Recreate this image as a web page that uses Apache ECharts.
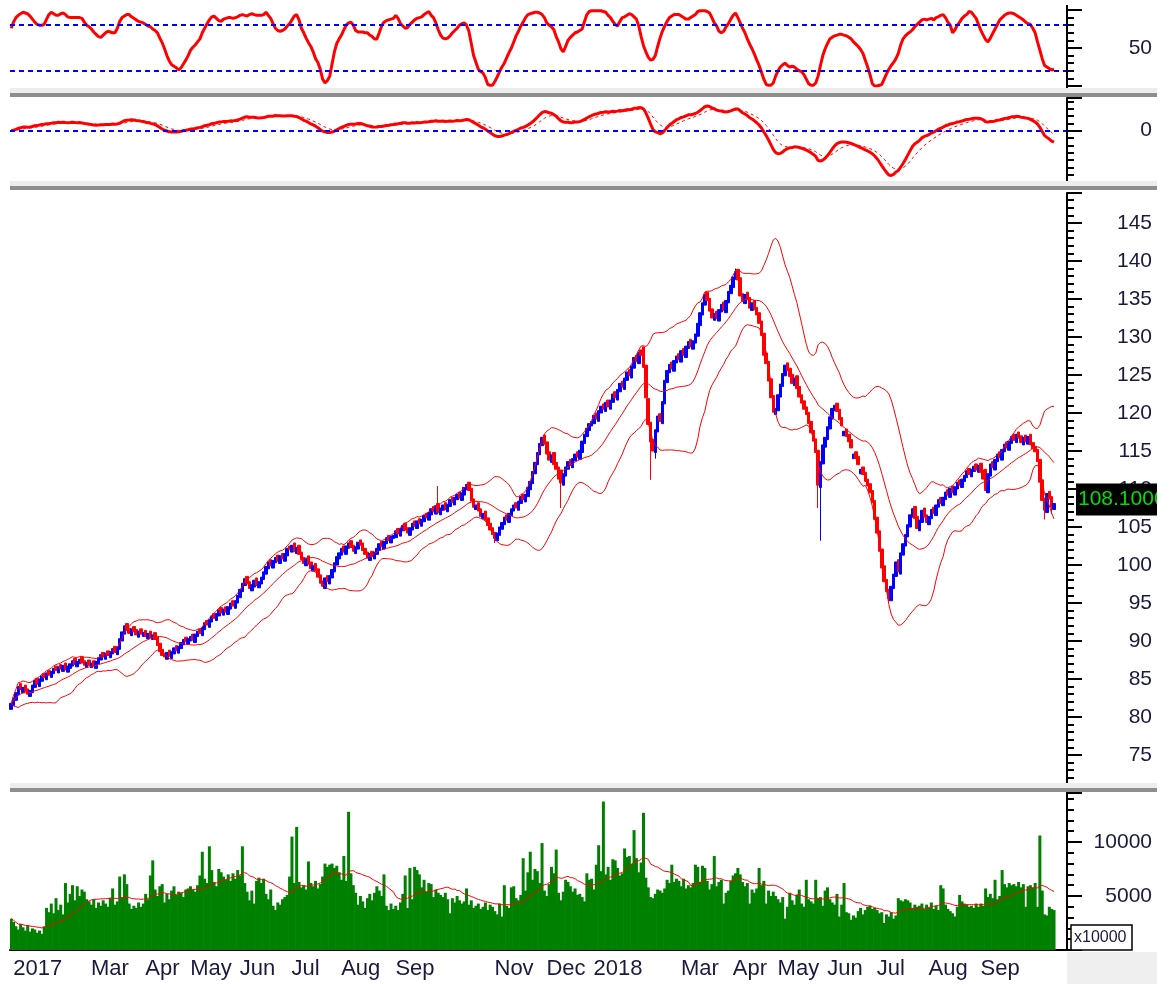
<!DOCTYPE html>
<html>
<head>
<meta charset="utf-8">
<title>Price chart</title>
<script src="https://cdn.jsdelivr.net/npm/echarts/dist/echarts.min.js"></script>
<style>
    html, body { margin: 0; padding: 0; background: #fff; }
    #main { width: 1169px; height: 984px; }
</style>
</head>
<body>
<div id="main"></div>
<script type="text/javascript">
// month labels on the time axis ('' = no label) and trading days in each month
var monthLabels = ['2017', '', 'Mar', 'Apr', 'May', 'Jun', 'Jul', 'Aug', 'Sep', '', 'Nov', 'Dec',
    '2018', '', 'Mar', 'Apr', 'May', 'Jun', 'Jul', 'Aug', 'Sep', ''];
var monthDays = [14, 19, 23, 19, 21, 22, 21, 23, 20, 22, 22, 20,
    22, 15, 22, 19, 21, 21, 22, 22, 19, 14];

// daily open / close
var opens17 = [
    81.0, 81.5, 82.2, 82.9, 84.4, 83.2, 84.2, 83.7, 82.7, 83.2, 83.9, 85.1, 84.0, 84.7,
    85.7, 84.9, 86.1, 85.2, 85.7, 86.7, 85.8, 86.9, 86.0, 87.1, 85.9, 86.4, 86.7, 87.7, 86.6, 87.0, 87.9, 87.4, 86.5,
    87.5, 86.5, 87.4, 86.4, 87.0, 87.5, 88.5, 87.6, 88.7, 87.8, 88.3, 89.3, 88.2, 88.9, 90.0, 90.9, 92.3, 91.7, 90.7, 91.9, 91.5, 90.5, 91.6,
    90.6, 91.4, 90.3, 91.3, 90.2, 91.1, 90.5, 89.7, 88.9, 88.4, 87.6, 88.8, 87.7, 88.3, 89.4, 88.4, 89.0, 89.5, 90.5,
    89.6, 90.0, 90.9, 89.8, 90.6, 91.6, 90.7, 91.5, 92.7, 91.8, 92.5, 93.6, 92.7, 93.3, 94.4, 93.4, 94.5, 93.5, 94.2, 95.3, 94.3,
    95.0, 95.7, 96.5, 97.3, 98.5, 97.8, 96.6, 97.1, 98.3, 97.0, 97.5, 98.1, 98.8, 99.5, 100.7, 99.6, 100.3, 101.3, 100.2, 101.5, 100.5, 101.2,
    102.5, 101.7, 102.9, 101.5, 102.6, 101.7, 101.0, 99.9, 101.2, 100.4, 99.2, 100.2, 99.5, 98.7, 97.9, 96.9, 98.6, 97.5, 98.3, 99.1, 100.0,
    100.8, 101.3, 102.5, 101.4, 102.2, 103.2, 102.6, 101.5, 102.1, 103.3, 102.9, 102.2, 101.7, 100.6, 101.8, 100.8, 101.4, 101.9, 103.1, 102.1, 102.8, 103.9, 102.9,
    103.5, 103.6, 104.8, 103.8, 104.5, 105.5, 104.9, 103.9, 104.6, 105.8, 104.8, 106.1, 105.1, 105.7, 106.8, 105.9, 106.6, 107.7, 106.7, 108.1,
    106.6, 107.2, 108.2, 107.0, 107.7, 108.9, 107.9, 108.6, 109.6, 108.5, 109.2, 109.9, 110.9, 110.1, 108.7, 107.3, 108.2, 107.4, 106.1, 107.1, 106.2, 105.5,
    104.9, 104.3, 103.2, 103.9, 104.7, 105.3, 106.6, 105.6, 106.5, 107.1, 108.2, 107.2, 108.1, 109.3, 108.3, 109.0, 109.9, 110.7, 112.0, 113.2, 114.5, 115.7,
    117.1, 116.2, 114.9, 113.5, 114.8, 113.5, 112.9, 112.5, 110.5, 111.7, 112.6, 113.9, 112.8, 113.7, 114.9, 113.9, 114.8, 116.0, 116.9, 117.7
];
var closes17 = [
    81.8, 82.5, 83.2, 84.0, 83.6, 83.9, 83.4, 83.0, 83.5, 84.2, 84.8, 84.3, 85.0, 85.4,
    85.2, 85.8, 85.5, 86.0, 86.4, 86.1, 86.6, 86.3, 86.8, 86.2, 86.7, 87.0, 87.4, 86.9, 87.3, 87.6, 87.1, 86.8, 87.2,
    86.8, 87.1, 86.7, 87.3, 87.8, 88.2, 87.9, 88.4, 88.1, 88.6, 89.0, 88.5, 89.2, 90.3, 91.2, 92.0, 91.4, 91.0, 91.6, 91.2, 90.8, 91.3, 90.9,
    91.1, 90.6, 91.0, 90.5, 90.8, 90.2, 89.4, 88.6, 88.1, 87.9, 88.5, 88.0, 88.6, 89.1, 88.7, 89.3, 89.8, 90.2, 89.9,
    90.3, 90.6, 90.1, 90.9, 91.3, 91.0, 91.8, 92.4, 92.1, 92.8, 93.3, 93.0, 93.6, 94.1, 93.7, 94.2, 93.8, 94.5, 95.0, 94.6, 95.3,
    96.0, 96.8, 97.6, 98.2, 97.5, 96.9, 97.4, 98.0, 97.3, 97.8, 98.4, 99.1, 99.8, 100.4, 99.9, 100.6, 101.0, 100.5, 101.2, 100.8, 101.5, 102.2,
    102.0, 102.6, 101.8, 102.3, 101.4, 100.7, 100.2, 100.9, 100.1, 99.5, 99.9, 99.2, 98.4, 97.6, 97.2, 98.3, 97.8, 98.6, 99.4, 100.3, 101.1,
    101.6, 102.2, 101.7, 102.5, 102.9, 102.3, 101.8, 102.4, 103.0, 102.6, 101.9, 101.4, 100.9, 101.5, 101.1, 101.7, 102.2, 102.8, 102.4, 103.1, 103.6, 103.2, 103.8,
    103.9, 104.5, 104.1, 104.8, 105.2, 104.6, 104.2, 104.9, 105.5, 105.1, 105.8, 105.4, 106.0, 106.5, 106.2, 106.9, 107.4, 107.0, 107.8, 106.9,
    107.5, 107.9, 107.3, 108.0, 108.6, 108.2, 108.9, 109.3, 108.8, 109.5, 110.2, 110.6, 109.8, 108.4, 107.6, 107.9, 107.1, 106.4, 106.8, 105.9, 105.2, 104.6,
    104.0, 103.5, 104.2, 105.0, 105.6, 106.3, 105.9, 106.8, 107.4, 107.9, 107.5, 108.4, 109.0, 108.6, 109.3, 110.2, 111.0, 112.3, 113.5, 114.8, 116.0, 116.8,
    115.9, 114.6, 113.8, 114.5, 113.2, 112.6, 111.3, 110.8, 112.0, 112.9, 113.6, 113.1, 114.0, 114.6, 114.2, 115.1, 116.3, 117.2, 118.0, 118.6
];
var opens18 = [
    118.3, 118.6, 120.0, 118.9, 120.0, 121.2, 120.2, 121.7, 120.5, 121.4, 122.8, 121.7, 122.8, 124.2, 123.1, 124.3, 125.7, 124.6, 125.9, 127.6, 126.5, 128.3,
    128.7, 126.3, 121.9, 118.8, 116.5, 114.8, 117.5, 119.9, 118.6, 121.2, 124.0, 125.3, 126.7, 125.5, 126.6,
    127.8, 126.7, 128.5, 127.3, 128.5, 129.7, 128.4, 129.2, 130.1, 131.5, 132.9, 134.2, 135.9, 135.1, 133.7, 132.2, 133.4, 132.1, 133.3, 134.6, 133.2, 134.5,
    135.7, 136.5, 137.6, 138.9, 137.8, 135.7, 134.4, 135.9, 135.2, 133.5, 134.8, 133.9, 133.2, 132.1, 130.5, 127.9, 126.8, 124.5, 122.3,
    119.8, 120.3, 122.1, 123.5, 124.9, 126.6, 125.9, 125.1, 123.6, 124.9, 123.5, 122.4, 121.6, 120.8, 120.1, 118.9, 117.7, 116.6, 115.1, 110.2, 113.3,
    115.5, 116.5, 117.9, 119.2, 120.3, 121.3, 120.5, 119.4, 117.0, 117.9, 117.2, 116.5, 114.0, 114.9, 114.3, 112.0, 112.9, 112.2, 111.3, 110.7, 109.8,
    108.5, 106.3, 104.5, 102.1, 99.9, 98.1, 96.8, 95.3, 96.9, 98.5, 100.7, 98.8, 101.3, 102.5, 103.7, 105.0, 106.3, 107.7, 106.4, 104.5, 105.6, 107.5,
    106.6, 105.3, 106.1, 107.6, 106.5, 107.6, 108.9, 107.8, 108.6, 109.9, 108.9, 110.4, 109.2, 110.0, 111.2, 110.2, 111.0, 111.5, 112.7, 111.6, 112.3, 113.3,
    112.2, 113.4, 112.5, 112.6, 109.5, 111.7, 113.6, 112.5, 113.6, 114.9, 113.8, 114.9, 116.2, 115.1, 116.0, 117.2, 116.1, 117.5, 117.0,
    115.8, 117.1, 115.9, 117.2, 116.1, 115.6, 115.2, 113.9, 111.2, 108.8, 106.9, 109.7, 109.0, 107.3
];
var closes18 = [
    118.9, 119.7, 119.2, 120.3, 120.9, 120.5, 121.4, 120.8, 121.7, 122.5, 122.0, 123.1, 123.9, 123.4, 124.6, 125.4, 124.9, 126.2, 127.3, 126.8, 128.0, 127.6,
    126.0, 122.0, 118.5, 116.2, 115.0, 117.8, 119.6, 118.9, 121.5, 124.3, 125.6, 126.4, 125.8, 126.9, 127.5,
    127.0, 128.2, 127.6, 128.8, 129.4, 128.7, 129.5, 130.4, 131.8, 133.2, 134.5, 135.6, 134.8, 133.4, 132.5, 133.1, 132.4, 133.6, 134.3, 133.5, 134.8, 136.0,
    136.8, 137.9, 138.6, 137.5, 135.4, 134.7, 135.6, 134.9, 133.8, 134.5, 133.6, 132.9, 131.8, 130.2, 127.6, 126.5, 124.2, 122.0, 120.1,
    120.6, 122.4, 123.8, 125.2, 126.3, 125.6, 124.8, 123.9, 124.6, 123.2, 122.1, 121.3, 120.5, 119.8, 118.6, 117.4, 116.3, 114.8, 110.5, 113.6, 115.8,
    116.8, 118.2, 119.5, 120.6, 121.0, 120.2, 119.1, 118.3, 117.6, 116.9, 116.2, 115.4, 114.6, 114.0, 113.2, 112.6, 111.9, 111.0, 110.4, 109.5, 108.2,
    106.0, 104.2, 101.8, 99.6, 97.8, 96.5, 95.6, 97.2, 98.8, 100.4, 99.1, 101.6, 102.8, 104.0, 105.3, 106.6, 107.4, 106.1, 104.8, 105.9, 107.2, 106.3,
    105.6, 106.4, 107.3, 106.8, 107.9, 108.6, 108.1, 108.9, 109.6, 109.2, 110.1, 109.5, 110.3, 110.9, 110.5, 111.3, 111.8, 112.4, 111.9, 112.6, 113.0, 112.5,
    113.1, 112.2, 111.3, 109.8, 112.0, 113.3, 112.8, 113.9, 114.6, 114.1, 115.2, 115.9, 115.4, 116.3, 116.9, 116.4, 117.2, 116.7, 116.1,
    116.8, 116.2, 116.9, 115.8, 115.3, 114.9, 113.6, 110.9, 108.5, 107.2, 109.4, 108.7, 107.6, 108.1
];
// long shadows that stand out: [day index, low, high]
var wicks = [[181, null, 110.4], [205, 102.9, null], [233, 107.5, null], [271, 111.2, null],
    [273, 114.0, null], [307, null, 139.0], [342, 107.5, null], [343, 103.2, null],
    [372, 95.0, null], [438, 106.0, null], [441, 106.7, null]];

// top oscillator (0-100)
var osc = [
    76, 84, 90, 93, 95, 97, 96, 95, 92, 88, 84, 81, 80, 80, 81, 88, 94, 97, 95, 93,
    93, 95, 96, 94, 91, 90, 90, 90, 90, 90, 89, 84, 80, 78, 75, 71, 68, 65, 64, 67,
    70, 72, 71, 70, 70, 76, 85, 90, 92, 94, 94, 91, 89, 87, 85, 84, 83, 81, 79, 78,
    75, 73, 70, 63, 57, 49, 40, 33, 28, 26, 24, 21, 24, 29, 34, 40, 47, 51, 54, 58,
    62, 70, 76, 82, 87, 91, 92, 89, 86, 85, 88, 89, 90, 90, 89, 90, 91, 93, 94, 93,
    92, 94, 95, 94, 93, 93, 93, 94, 97, 93, 89, 82, 76, 73, 72, 73, 75, 79, 82, 87,
    92, 94, 87, 76, 70, 63, 57, 52, 45, 36, 31, 22, 9, 4, 7, 13, 29, 45, 56, 62,
    67, 74, 80, 83, 84, 80, 73, 71, 71, 71, 70, 70, 67, 65, 62, 62, 70, 79, 84, 86,
    87, 88, 89, 93, 89, 82, 79, 76, 77, 81, 84, 87, 89, 90, 91, 94, 96, 98, 93, 90,
    83, 74, 67, 63, 62, 63, 66, 70, 73, 76, 80, 82, 83, 80, 72, 56, 40, 31, 22, 19,
    17, 11, 2, 1, 1, 6, 12, 19, 25, 30, 37, 44, 50, 58, 66, 72, 79, 84, 90, 94,
    95, 96, 97, 97, 96, 94, 90, 83, 80, 78, 74, 65, 58, 49, 45, 52, 60, 64, 67, 70,
    71, 73, 75, 85, 94, 98, 99, 99, 99, 99, 99, 98, 97, 93, 90, 85, 81, 79, 85, 90,
    91, 93, 95, 94, 91, 88, 79, 65, 53, 45, 38, 34, 35, 40, 52, 63, 72, 79, 85, 90,
    92, 94, 94, 94, 92, 90, 88, 88, 90, 92, 94, 98, 99, 99, 99, 98, 96, 90, 83, 79,
    72, 70, 72, 78, 82, 88, 93, 96, 90, 83, 76, 70, 62, 55, 49, 42, 34, 27, 18, 9,
    2, 1, 1, 4, 13, 20, 25, 28, 30, 27, 25, 26, 25, 22, 20, 19, 15, 9, 3, 1,
    1, 4, 13, 27, 40, 49, 56, 62, 64, 66, 67, 68, 68, 67, 66, 64, 62, 58, 55, 52,
    48, 43, 34, 25, 15, 3, 0, 0, 1, 2, 9, 16, 22, 27, 31, 36, 43, 54, 62, 66,
    69, 71, 74, 78, 81, 84, 87, 88, 87, 88, 89, 87, 90, 91, 93, 94, 90, 84, 80, 70,
    74, 80, 84, 89, 92, 94, 98, 97, 93, 89, 81, 73, 67, 61, 58, 63, 69, 75, 81, 87,
    90, 93, 95, 96, 96, 95, 93, 91, 89, 87, 84, 82, 81, 76, 70, 58, 47, 36, 27, 25,
    23, 21, 22
];

// daily volume (x10000)
var vol17 = [
    2900, 2600, 2200, 1900, 2400, 2100, 1800, 2300, 1700, 2000, 1900, 1600, 1800, 1500,
    2200, 3900, 3500, 4300, 3400, 4800, 3700, 4200, 3300, 6200, 4400, 5200, 6000, 4600, 5900, 5000, 5600, 5400, 4700,
    4500, 4200, 4700, 3900, 4400, 4100, 4600, 4300, 4000, 4800, 5700, 4200, 4500, 6800, 4900, 7000, 6100, 4300, 3800, 4100, 3900, 4400, 4000,
    4300, 5200, 4700, 6900, 8300, 5600, 5000, 5900, 6100, 4400, 5200, 4700, 5500, 5900, 5100, 5400, 5300, 4900, 5600,
    5700, 5900, 5600, 5400, 6000, 6900, 9100, 6600, 6200, 9600, 7400, 6300, 5900, 7500, 7200, 6800, 6500, 7000, 6400, 7100, 6600,
    7400, 6900, 9600, 6200, 5400, 4600, 5500, 4300, 6400, 6700, 6200, 6600, 5200, 4700, 5600, 4100, 3700, 4400, 4200, 4700, 4900, 5100,
    6800, 10500, 6200, 11400, 6300, 5800, 6000, 5600, 8200, 6200, 5900, 6400, 5700, 6100, 6800, 8000, 7700, 7900, 8000, 7600, 7800,
    7200, 6500, 8700, 6400, 12800, 7100, 6000, 5300, 4200, 5000, 4500, 3900, 4800, 5200, 4600, 5300, 5900, 5500, 5000, 7000, 4100, 3700, 4300,
    3800, 4100, 3700, 4400, 5200, 6900, 3900, 7600, 4700, 7700, 7400, 7000, 5800, 6500, 5400, 6200, 6100, 4900, 5600, 5300,
    5100, 4900, 5300, 4700, 3400, 4800, 4400, 5000, 4600, 4300, 4500, 5700, 4200, 4600, 3900, 4100, 4300, 3800, 4000, 4400, 3700, 4200,
    4000, 3600, 3300, 4300, 3100, 6000, 4100, 3900, 5800, 5900, 4800, 4600, 5100, 8500, 5500, 7200, 9100, 6500, 7500, 7300, 6200, 9900,
    5500, 5000, 6100, 7700, 7100, 9300, 5300, 4600, 5400, 6500, 6300, 5900, 5400, 5700, 5100, 5200, 4900, 4500, 7100, 6500
];
var vol18 = [
    6600, 5600, 7900, 9700, 7300, 13750, 7000, 7700, 6500, 8400, 8300, 7600, 6900, 7100, 9400, 8600, 8700, 8000, 11100, 8500, 7200, 8100,
    12700, 6700, 5800, 4900, 4800, 5200, 5600, 5500, 5300, 5700, 6500, 6200, 7900, 6300, 6600,
    6400, 5900, 6600, 5700, 6000, 5800, 6200, 7900, 7700, 6300, 7800, 7600, 6400, 5600, 6100, 8700, 5900, 6300, 6500, 4300, 5300, 5500,
    6400, 6900, 7100, 7600, 7000, 6300, 5900, 6200, 4300, 5600, 5300, 5700, 7600, 6000, 6400, 4300, 5500, 5000, 5400,
    5000, 4700, 4400, 4900, 2900, 4000, 5300, 4600, 4200, 5100, 5600, 4300, 4000, 6500, 4700, 4500, 4300, 6500, 4800, 4900, 4100,
    5500, 5800, 4700, 4400, 4200, 5200, 3100, 4200, 6200, 3500, 3400, 2800, 3200, 3000, 3600, 3900, 3300, 3700, 4000, 4100, 3800,
    3900, 3700, 3400, 3500, 2500, 3300, 3100, 3500, 2900, 3200, 4800, 4600, 4500, 4700, 4600, 4400, 3900, 4200, 4000, 4100, 4300, 3800,
    4200, 3900, 4400, 3800, 4100, 3700, 6000, 5700, 4200, 3800, 3600, 3400, 3100, 4000, 5100, 4500, 4300, 4200, 4000, 4100, 3900, 4300,
    4000, 4300, 4100, 5700, 4900, 5200, 4800, 6500, 4700, 5000, 7400, 6100, 5800, 6200, 6000, 6100, 5900, 6300, 5800,
    6100, 4000, 5900, 6000, 5800, 6200, 4000, 10600, 5500, 3300, 3200, 4000, 3800, 3700
];

var opens = opens17.concat(opens18);
var closes = closes17.concat(closes18);
var vols = vol17.concat(vol18);
var n = closes.length;

var lows = [], highs = [];
for (var i = 0; i < n; i++) {
    lows.push(Math.min(opens[i], closes[i]));
    highs.push(Math.max(opens[i], closes[i]));
}
wicks.forEach(function (w) {
    if (w[1] != null) lows[w[0]] = w[1];
    if (w[2] != null) highs[w[0]] = w[2];
});

// category axis: one slot per trading day, a few empty slots on the right
var cats = [], monthStart = {}, k = 0;
monthDays.forEach(function (d, mi) {
    monthStart[k] = mi;
    for (var j = 0; j < d; j++) cats.push(mi + '|' + j);
    k += d;
});
for (var p = 0; p < 5; p++) cats.push('pad|' + p);
var shortTickMonths = [1, 13, 21];

// indicators
function sma(src, per) {
    var out = [];
    for (var i = 0; i < src.length; i++) {
        var s = Math.max(0, i - per + 1), sum = 0;
        for (var j = s; j <= i; j++) sum += src[j];
        out.push(sum / (i - s + 1));
    }
    return out;
}
function ema(src, per) {
    var a = 2 / (per + 1), out = [src[0]];
    for (var i = 1; i < src.length; i++) out.push(out[i - 1] + a * (src[i] - out[i - 1]));
    return out;
}
var bbUp = [], bbMid = [], bbLo = [];
for (var i = 0; i < n; i++) {
    var s = Math.max(0, i - 19), w = closes.slice(s, i + 1);
    var m = w.reduce(function (a, b) { return a + b; }, 0) / w.length;
    var v = w.reduce(function (a, b) { return a + (b - m) * (b - m); }, 0) / w.length;
    var sd = Math.sqrt(v);
    bbUp.push(+(m + 2 * sd).toFixed(2));
    bbMid.push(+m.toFixed(2));
    bbLo.push(+(m - 2 * sd).toFixed(2));
}
var e12 = ema(closes, 12), e26 = ema(closes, 26);
var macd = e12.map(function (x, i) { return x - e26[i]; });
var signal = ema(macd, 9);
var volMa = sma(vols, 20).map(function (x) { return Math.round(x); });

var macdMin = Math.min.apply(null, macd.concat(signal));
var sc = 44 / Math.abs(macdMin);
var mu = 7.2 / sc;

var candleData = [];
for (var i = 0; i < n; i++) candleData.push([opens[i], closes[i], lows[i], highs[i]]);

var labelColor = '#1a1a3c';
function yAxis(g, min, max, interval, fmt, minorSplit) {
    return {
        type: 'value', gridIndex: g, position: 'right', min: min, max: max, interval: interval,
        splitLine: { show: false },
        axisLine: { show: true, lineStyle: { color: '#000', width: 2 } },
        axisTick: { show: true, length: 15, lineStyle: { color: '#000', width: 2 } },
        minorTick: { show: true, splitNumber: minorSplit, length: 7, lineStyle: { color: '#000', width: 2 } },
        axisLabel: { align: 'right', margin: 85, fontSize: 21, color: labelColor, formatter: fmt }
    };
}

var myChart = echarts.init(document.getElementById('main'));
var option = {
    animation: false,
    backgroundColor: '#fff',
    textStyle: { fontFamily: 'Liberation Sans, Arial, sans-serif' },
    grid: [
        { left: 10, right: 102, top: 10, height: 76, outerBoundsMode: 'none' },
        { left: 10, right: 102, top: 98, height: 84, outerBoundsMode: 'none' },
        { left: 10, right: 102, top: 193, height: 600, outerBoundsMode: 'none' },
        { left: 10, right: 102, top: 793, height: 157, outerBoundsMode: 'none' }
    ],
    xAxis: [
        { type: 'category', gridIndex: 0, data: cats, show: false },
        { type: 'category', gridIndex: 1, data: cats, show: false },
        { type: 'category', gridIndex: 2, data: cats, show: false },
        {
            type: 'category', gridIndex: 3, data: cats,
            axisLine: { lineStyle: { color: '#000', width: 2 } },
            axisTick: {
                length: 32, lineStyle: { color: '#000', width: 1.5 },
                interval: function (idx) {
                    return idx > 0 && monthStart[idx] !== undefined && shortTickMonths.indexOf(monthStart[idx]) < 0;
                }
            },
            axisLabel: {
                fontSize: 22, color: labelColor, align: 'left', margin: 8, padding: [0, 0, 0, 2],
                interval: function (idx) {
                    return monthStart[idx] !== undefined && monthLabels[monthStart[idx]] !== '';
                },
                formatter: function (val) {
                    var mi = +val.split('|')[0];
                    return monthLabels[mi] || '';
                }
            }
        },
        {
            type: 'category', gridIndex: 3, data: cats,
            axisLine: { show: false },
            axisLabel: { show: false },
            axisTick: {
                length: 4, lineStyle: { color: '#000', width: 1.5 },
                interval: function (idx) {
                    return monthStart[idx] !== undefined && shortTickMonths.indexOf(monthStart[idx]) >= 0;
                }
            }
        }
    ],
    yAxis: [
        yAxis(0, 0, 100, 50, function (v) { return v === 50 ? '50' : ''; }, 5),
        yAxis(1, -7 * mu, 32 / sc, 7 * mu, function (v) { return Math.abs(v) < mu / 2 ? '0' : ''; }, 7),
        yAxis(2, 70, 148.95, 5, function (v) { return (v >= 75 && v <= 145 && v % 5 === 0) ? String(v) : ''; }, 5),
        yAxis(3, 0, 14537, 5000, function (v) { return (v === 5000 || v === 10000) ? String(v) : ''; }, 5)
    ],
    series: [
        {
            name: 'osc', type: 'line', xAxisIndex: 0, yAxisIndex: 0, data: osc,
            showSymbol: false, lineStyle: { color: '#ff0000', width: 3 },
            markLine: {
                silent: true, symbol: ['none', 'none'], label: { show: false },
                lineStyle: { color: '#0000ff', type: [5, 4], width: 2 },
                data: [{ yAxis: 80 }, { yAxis: 20 }]
            }
        },
        {
            name: 'macd', type: 'line', xAxisIndex: 1, yAxisIndex: 1, data: macd,
            showSymbol: false, lineStyle: { color: '#ff0000', width: 3 },
            markLine: {
                silent: true, symbol: ['none', 'none'], label: { show: false },
                lineStyle: { color: '#0000ff', type: [5, 4], width: 2 },
                data: [{ yAxis: 0 }]
            }
        },
        {
            name: 'signal', type: 'line', xAxisIndex: 1, yAxisIndex: 1, data: signal,
            showSymbol: false, lineStyle: { color: '#ff0000', width: 1, type: [3, 3] }
        },
        {
            name: 'price', type: 'candlestick', xAxisIndex: 2, yAxisIndex: 2, data: candleData,
            barWidth: 3,
            itemStyle: { color: '#0000ff', color0: '#ff0000', borderColor: '#0000ff', borderColor0: '#ff0000', borderWidth: 1 }
        },
        { name: 'bbUp', type: 'line', xAxisIndex: 2, yAxisIndex: 2, data: bbUp, showSymbol: false, lineStyle: { color: '#ff0000', width: 1 } },
        { name: 'bbMid', type: 'line', xAxisIndex: 2, yAxisIndex: 2, data: bbMid, showSymbol: false, lineStyle: { color: '#ff0000', width: 1 } },
        { name: 'bbLo', type: 'line', xAxisIndex: 2, yAxisIndex: 2, data: bbLo, showSymbol: false, lineStyle: { color: '#ff0000', width: 1 } },
        {
            name: 'volume', type: 'bar', xAxisIndex: 3, yAxisIndex: 3, data: vols,
            barWidth: 3, itemStyle: { color: '#008000' }
        },
        {
            name: 'volMa', type: 'line', xAxisIndex: 3, yAxisIndex: 3, data: volMa,
            showSymbol: false, lineStyle: { color: '#ff0000', width: 1 }, z: 5
        }
    ]
};
myChart.setOption(option);

// panel separators, axis frame, badges
var g = [];
[[5, 88], [98, 182], [193, 783], [793, 951]].forEach(function (r) {
    g.push({ type: 'line', shape: { x1: 1067, y1: r[0], x2: 1067, y2: r[1] }, style: { stroke: '#000', lineWidth: 2 }, z: 90 });
});
[88, 181, 783].forEach(function (y) {
    g.push({ type: 'rect', shape: { x: 10, y: y, width: 1147, height: 5 }, style: { fill: '#ededed' }, z: 100 });
    g.push({ type: 'rect', shape: { x: 10, y: y + 5, width: 1147, height: 4 }, style: { fill: '#8e8e8e' }, z: 100 });
});
g.push({ type: 'rect', shape: { x: 1067, y: 952, width: 90, height: 32 }, style: { fill: '#efefef' }, z: 100 });
g.push({ type: 'rect', shape: { x: 1071, y: 925, width: 61, height: 25 }, style: { fill: '#fff', stroke: '#000', lineWidth: 1.5 }, z: 100 });
g.push({ type: 'text', x: 1074, y: 938, style: { text: 'x10000', font: '16px Liberation Sans, Arial', fill: labelColor, verticalAlign: 'middle' }, z: 101 });
var lastY = myChart.convertToPixel({ yAxisIndex: 2 }, closes[n - 1]);
g.push({ type: 'rect', shape: { x: 1076, y: lastY - 20, width: 81, height: 32 }, style: { fill: '#000' }, z: 100 });
g.push({ type: 'text', x: 1078, y: lastY - 4, style: { text: closes[n - 1].toFixed(4), font: '21px Liberation Sans, Arial', fill: '#00dd00', verticalAlign: 'middle' }, z: 101 });
g.push({ type: 'rect', shape: { x: 1157, y: lastY - 22, width: 12, height: 36 }, style: { fill: '#fff' }, z: 102 });
myChart.setOption({ graphic: g });
</script>
</body>
</html>
